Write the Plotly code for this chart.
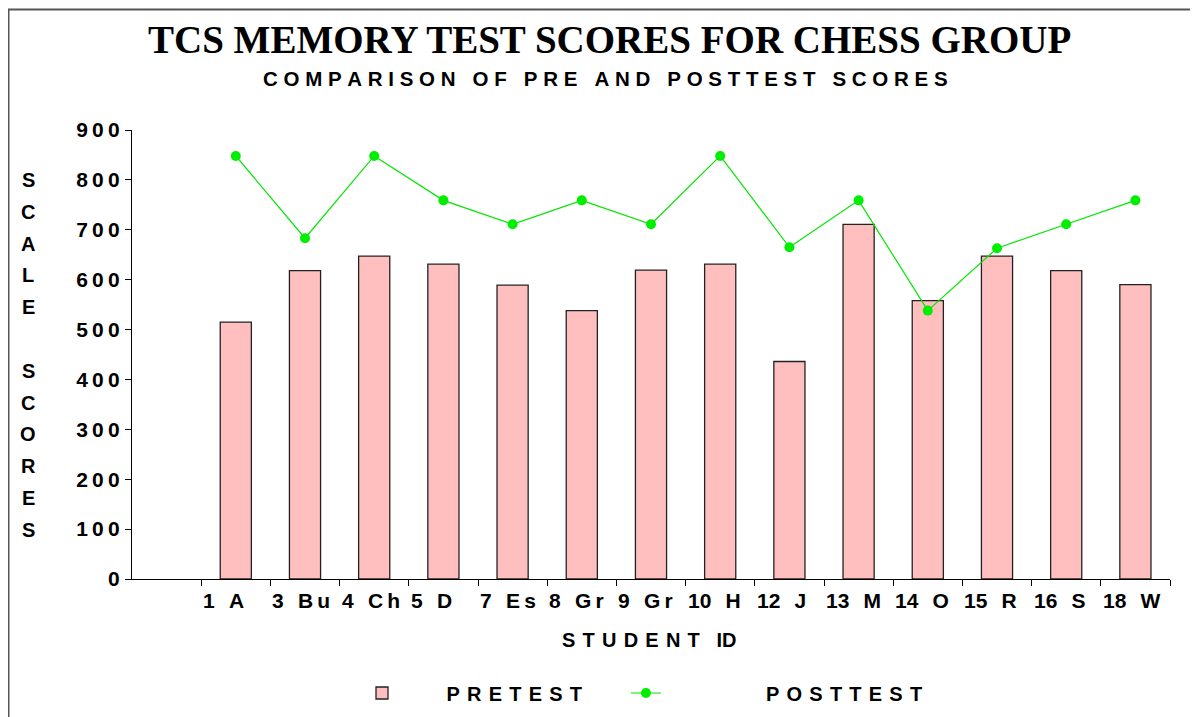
import plotly.graph_objects as go

# ---- data ----
student_ids = ["1 A", "3 Bu", "4 Ch", "5 D", "7 Es", "8 Gr", "9 Gr",
               "10 H", "12 J", "13 M", "14 O", "15 R", "16 S", "18 W"]
pretest = [515, 618, 647, 631, 589, 538, 619, 631, 436, 711, 558, 647, 618, 590]
posttest = [848, 683, 848, 759, 711, 759, 711, 848, 665, 759, 538, 663, 711, 759]
y_ticks = [0, 100, 200, 300, 400, 500, 600, 700, 800, 900]

THIN = "\u2009"
HAIR = "\u200a"
NB = "\u00a0"


def spaced(s, gap=THIN, word=NB + NB):
    return gap.join(word if ch == " " else ch for ch in s)


def id_label(s):
    num, name = s.split(" ", 1)
    return num + NB + THIN * 2 + THIN.join(name)


# positions: slot 0 is empty, bars sit in slots 1..n
xpos = list(range(1, len(student_ids) + 1))

# figure geometry (page body adds an 8px offset)
W, H = 1190, 709
L, R, T, B = 124, 28, 122, 138
pw, ph = W - L - R, H - T - B
PB = H - B  # plot bottom in figure pixels


def px_x(x):
    return (x - L) / pw


def px_y(y):
    return (PB - y) / ph


fig = go.Figure()
fig.add_trace(go.Bar(
    x=xpos, y=pretest,
    name=NB * 8 + spaced("PRETEST", gap=NB + HAIR) + NB * 7,
    marker=dict(color="#FFBFBF", line=dict(color="#222222", width=1.3)),
    width=0.45,
))
fig.add_trace(go.Scatter(
    x=xpos, y=posttest,
    name=NB * 18 + spaced("POSTTEST", gap=NB + HAIR),
    mode="lines+markers",
    line=dict(color="#00E600", width=1.2),
    marker=dict(color="#00EE00", size=10, symbol="circle"),
))

fig.update_layout(
    width=W, height=H,
    margin=dict(l=L, r=R, t=T, b=B, autoexpand=False),
    paper_bgcolor="white", plot_bgcolor="white",
    font=dict(family="Liberation Sans", size=20, color="#000000", weight="bold"),
    showlegend=True,
    legend=dict(orientation="h", x=px_x(354), xanchor="left",
                y=px_y(685), yanchor="middle",
                font=dict(family="Liberation Sans", size=20, color="#000", weight="bold"),
                bgcolor="rgba(0,0,0,0)"),
)

# x axis: ticks at slot boundaries, labels drawn as annotations
bounds = [i + 0.5 for i in range(len(student_ids) + 1)]
fig.update_xaxes(
    range=[-0.5, len(student_ids) + 0.5],
    showline=True, linecolor="#000", linewidth=1.3,
    tickmode="array", tickvals=bounds, ticktext=[""] * len(bounds),
    ticks="outside", ticklen=6, tickcolor="#000", tickwidth=1,
    showgrid=False, zeroline=False,
)
fig.update_yaxes(
    range=[0, 900],
    showline=True, linecolor="#000", linewidth=1.3,
    tickmode="array", tickvals=y_ticks,
    ticktext=[spaced(str(v), gap=THIN) for v in y_ticks],
    ticks="outside", ticklen=6, tickcolor="#000", tickwidth=1,
    ticklabelstandoff=1,
    tickfont=dict(family="Liberation Sans", size=21, color="#000", weight="bold"),
    showgrid=False, zeroline=False,
)

annotations = []
# category labels, left-aligned at the boundary tick before each bar
for xp, lab in zip(xpos, student_ids):
    annotations.append(dict(
        x=xp - 0.5, xref="x", y=px_y(PB + 21), yref="paper",
        text=id_label(lab), showarrow=False, xanchor="left", yanchor="middle",
        xshift=0,
        font=dict(family="Liberation Sans", size=21, color="#000", weight="bold"),
    ))

# title and subtitle
annotations.append(dict(
    x=px_x(601), xref="paper", y=px_y(31), yref="paper",
    text="TCS MEMORY TEST SCORES FOR CHESS GROUP", showarrow=False,
    xanchor="center", yanchor="middle",
    font=dict(family="Liberation Serif", size=39, color="#000", weight="bold"),
))
annotations.append(dict(
    x=px_x(597), xref="paper", y=px_y(70), yref="paper",
    text=spaced("COMPARISON OF PRE AND POSTTEST SCORES", gap=NB, word=NB),
    showarrow=False, xanchor="center", yanchor="middle",
    font=dict(family="Liberation Sans", size=20.5, color="#000", weight="bold"),
))
# x axis title
annotations.append(dict(
    x=px_x(641), xref="paper", y=px_y(632), yref="paper",
    text=spaced("STUDENT", gap=NB + HAIR) + NB * 3 + "ID",
    showarrow=False, xanchor="center", yanchor="middle",
    font=dict(family="Liberation Sans", size=20, color="#000", weight="bold"),
))
# y axis title, stacked letters
ytitle = "SCALE SCORES"
y0, step = 172, 31.8
for row, ch in enumerate(ytitle):
    if ch == " ":
        continue
    annotations.append(dict(
        x=px_x(20), xref="paper", y=px_y(y0 + row * step), yref="paper",
        text=ch, showarrow=False, xanchor="center", yanchor="middle",
        font=dict(family="Liberation Sans", size=20, color="#000", weight="bold"),
    ))

fig.update_layout(annotations=annotations)

# frame lines (top and left)
fig.add_shape(type="line", xref="paper", yref="paper",
              x0=px_x(0), x1=px_x(W + 5), y0=px_y(1.5), y1=px_y(1.5),
              line=dict(color="#555555", width=2))
fig.add_shape(type="line", xref="paper", yref="paper",
              x0=px_x(0.5), x1=px_x(0.5), y0=px_y(1.5), y1=px_y(H + 5),
              line=dict(color="#555555", width=2))

fig.write_html("out.html")
